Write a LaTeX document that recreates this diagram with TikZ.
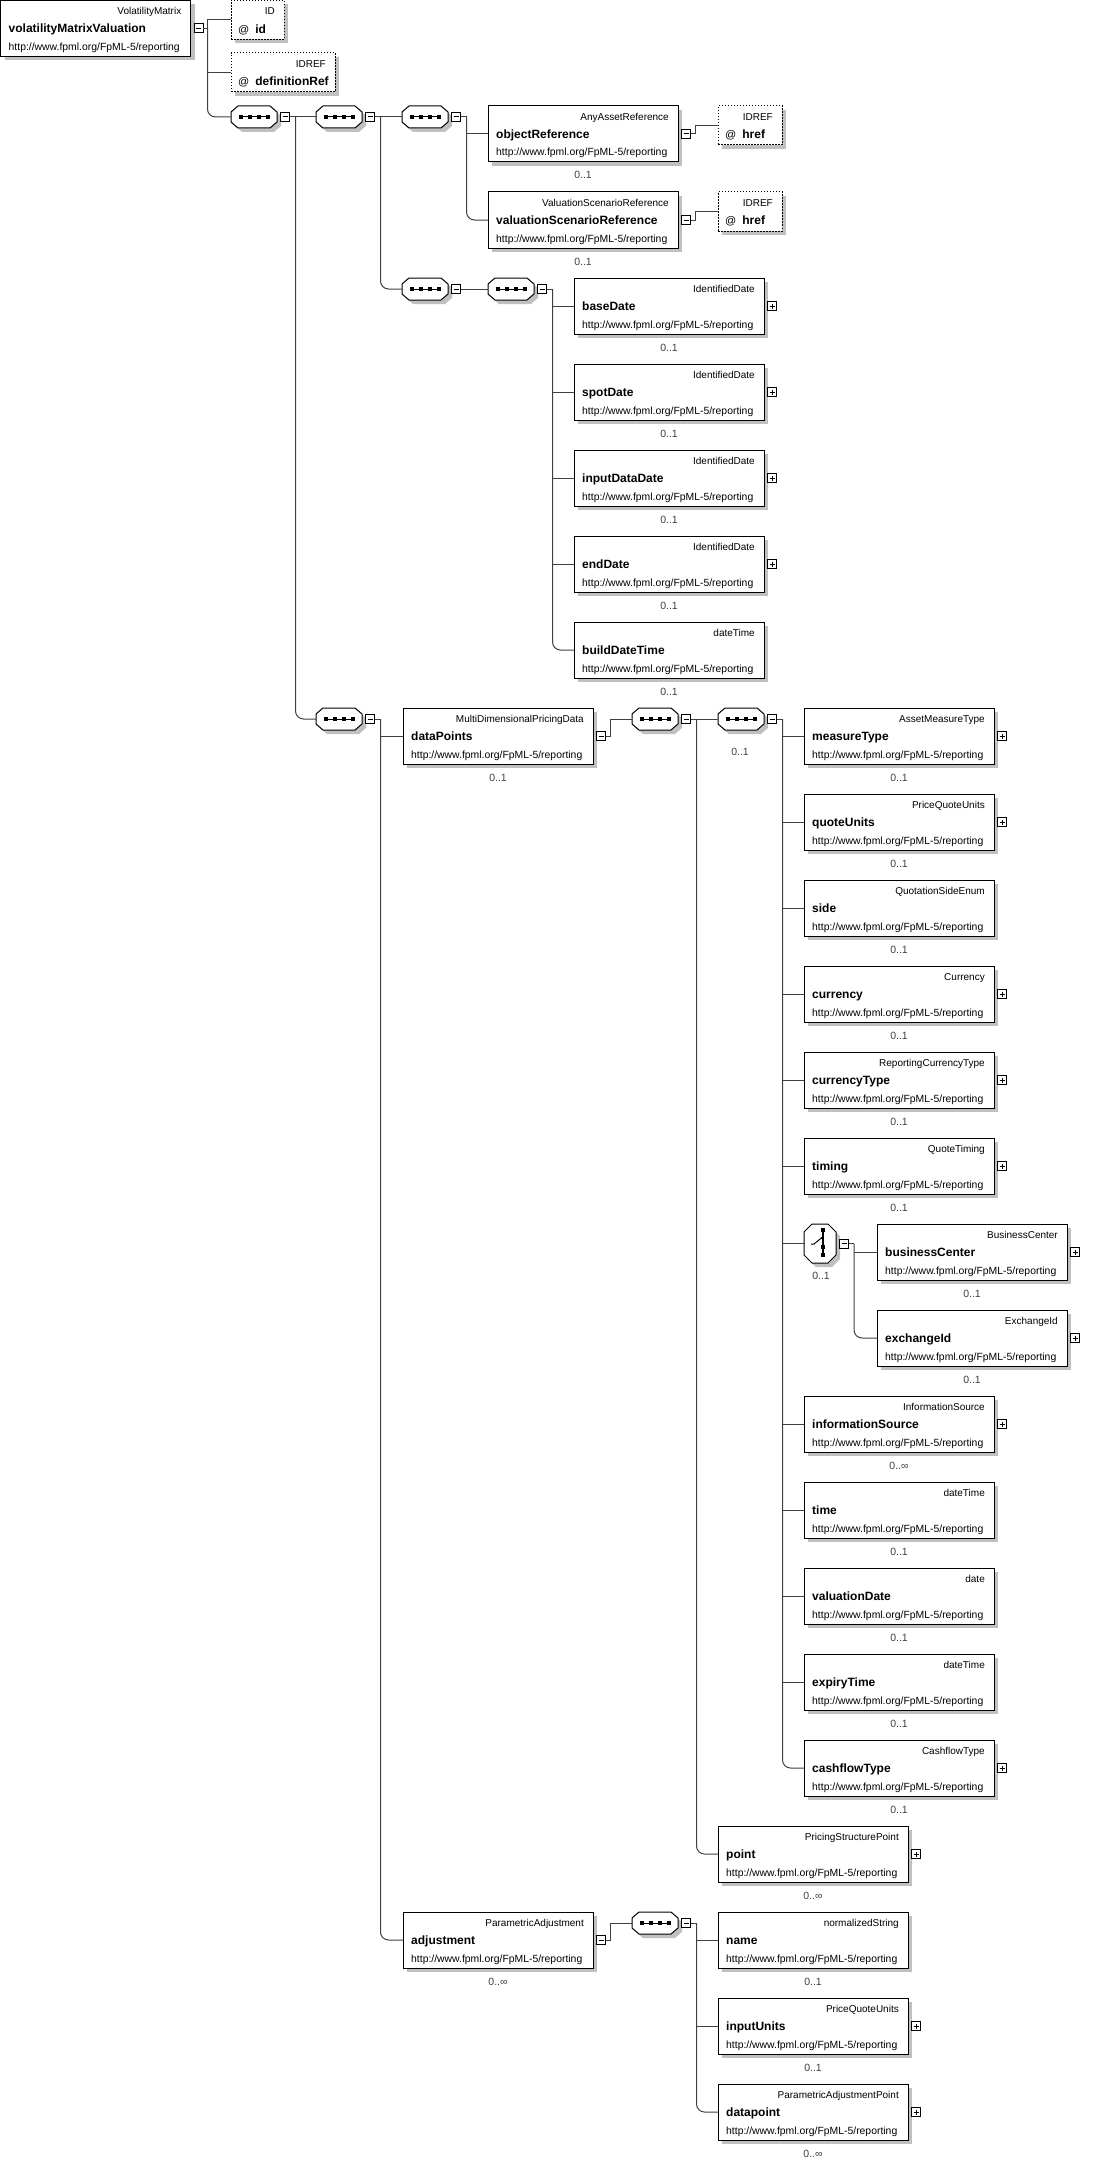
\documentclass[tikz,border=0pt]{standalone}
\usepackage{fontspec}
\setmainfont{Liberation Sans}
\usetikzlibrary{calc}
\definecolor{shadowc}{RGB}{192,192,192}
\definecolor{linec}{RGB}{64,64,64}
\definecolor{occc}{RGB}{64,64,64}
\newcommand\myurl{http://www.fpml.org/FpML-5/reporting}
\tikzset{
 conn/.style={draw=linec, line width=1pt},
 ebox/.style={draw=black, line width=1pt, fill=white, anchor=north west, inner sep=0pt, outer sep=0pt, minimum width=190pt, minimum height=56pt},
 abox/.style={draw=black, line width=1pt, fill=white, dash pattern=on 1.5pt off 1.5pt, anchor=north west, inner sep=0pt, outer sep=0pt, minimum height=39pt},
 typet/.style={font=\fontsize{10}{12}\selectfont, inner sep=0pt, anchor=base east},
 namet/.style={font=\bfseries\fontsize{12}{14}\selectfont, inner sep=0pt, anchor=base west},
 urlt/.style={font=\fontsize{10.4}{12}\selectfont, inner sep=0pt, anchor=base west},
 occt/.style={font=\fontsize{10.5}{12}\selectfont, text=occc, inner sep=0pt, anchor=base},
 pmbox/.style={draw=black, line width=1pt, fill=white, minimum size=9pt, inner sep=0pt, outer sep=0pt},
 hidden/.style={inner sep=0pt, outer sep=0pt, anchor=north west, draw=none}
}
\newcommand\minusbx[2]{%
 \node[pmbox] (#1) at (#2) {};
 \draw[line width=1pt] ($(#1.center)+(-2.5,0)$) -- ($(#1.center)+(2.5,0)$);
}
\newcommand\plusbx[2]{%
 \node[pmbox] (#1) at (#2) {};
 \draw[line width=1pt] ($(#1.center)+(-2.5,0)$) -- ($(#1.center)+(2.5,0)$);
 \draw[line width=1pt] ($(#1.center)+(0,-2.5)$) -- ($(#1.center)+(0,2.5)$);
}
\newcommand\withplus[1]{\plusbx{#1-p}{$(#1.east)+(8,0)$}}
\newcommand\withminus[1]{\minusbx{#1-m}{$(#1.east)+(8,0)$}}
% element box: name, x, y, type, element name, occurrence, extra
\newcommand\elem[7]{%
 \fill[shadowc] (#2+4,#3+4) rectangle (#2+194,#3+60);
 \node[ebox] (#1) at (#2,#3) {};
 \node[typet] (#1-t) at (#2+181,#3+14.5) {#4};
 \node[namet] (#1-n) at (#2+8,#3+32.5) {#5};
 \node[urlt] (#1-u) at (#2+8,#3+50) {\myurl};
 \ifx\relax#6\relax\else\node[occt] (#1-o) at (#2+95,#3+73) {#6};\fi
 #7%
}
% attribute box: name, x, y, width, type, attribute name
\newcommand\attr[6]{%
 \fill[shadowc] (#2+4,#3+4) rectangle (#2+#4+4,#3+43);
 \node[abox, minimum width=#4pt] (#1) at (#2,#3) {};
 \node[typet] (#1-t) at (#2+#4-9,#3+14.5) {#5};
 \node[namet] (#1-n) at (#2+7,#3+33) {{\mdseries\fontsize{11}{13}\selectfont @}\hspace{6pt}#6};
}
% sequence symbol: name, x, y
\newcommand\seqsym[3]{%
 \begin{scope}[shift={(#2+4,#3+4)}]
  \fill[shadowc] (7,0) -- (39,0) -- (46,6) -- (46,16) -- (39,22) -- (7,22) -- (0,16) -- (0,6) -- cycle;
 \end{scope}
 \node[hidden, minimum width=46pt, minimum height=22pt] (#1) at (#2,#3) {};
 \begin{scope}[shift={(#2,#3)}]
  \draw[black, line width=1pt, fill=white] (7,0) -- (39,0) -- (46,6) -- (46,16) -- (39,22) -- (7,22) -- (0,16) -- (0,6) -- cycle;
  \draw[line width=1pt] (8,11) -- (38.5,11);
  \foreach \q in {9.5,18.5,27.5,36.5} \fill (\q-2,9) rectangle (\q+2,13);
 \end{scope}
 \minusbx{#1-m}{$(#1.east)+(8,0)$}
 \coordinate (#1-v) at ($(#1-m.center)+(10.5,0)$);
}
% choice symbol: name, x, y
\newcommand\choicesym[3]{%
 \begin{scope}[shift={(#2+4,#3+4)}]
  \fill[shadowc] (8,0) -- (24,0) -- (32,8) -- (32,31) -- (24,39) -- (8,39) -- (0,31) -- (0,8) -- cycle;
 \end{scope}
 \node[hidden, minimum width=32pt, minimum height=39pt] (#1) at (#2,#3) {};
 \begin{scope}[shift={(#2,#3)}]
  \draw[black, line width=1pt, fill=white] (8,0) -- (24,0) -- (32,8) -- (32,31) -- (24,39) -- (8,39) -- (0,31) -- (0,8) -- cycle;
  \draw[line width=1.2pt] (19,5) -- (19,32);
  \foreach \q in {6,22.5,31} \fill (19-2,\q-2) rectangle (19+2,\q+2);
  \fill (19-2,14-1.3) rectangle (19+0.6,14+1.3);
  \draw[line width=1pt] (7,20) -- (10,20) -- (18,13.5);
 \end{scope}
 \minusbx{#1-m}{$(#1.east)+(8,0)$}
 \coordinate (#1-v) at ($(#1-m.center)+(10,0)$);
}
\begin{document}
\begin{tikzpicture}[x=1pt,y=-1pt]
\fill[white] (0,0) rectangle (1108,2162);
\useasboundingbox (0,0) rectangle (1108,2162);

% root and attributes
\elem{root}{0.5}{0.5}{VolatilityMatrix}{volatilityMatrixValuation}{}{\withminus{root}}
\attr{ID}{231}{0.5}{53}{ID}{id}
\attr{IDREF}{231}{53}{104}{IDREF}{definitionRef}

% sequences
\seqsym{s1}{231}{106}
\seqsym{s2}{316}{106}
\seqsym{s3}{402}{106}
\elem{objRef}{488}{106}{AnyAssetReference}{objectReference}{0..1}{\withminus{objRef}}
\attr{href1}{718}{106}{64}{IDREF}{href}
\elem{valScen}{488}{192}{ValuationScenarioReference}{valuationScenarioReference}{0..1}{\withminus{valScen}}
\attr{href2}{718}{192}{64}{IDREF}{href}

\seqsym{s4}{402}{278}
\seqsym{s5}{488}{278}
\elem{baseDate}{574}{278}{IdentifiedDate}{baseDate}{0..1}{\withplus{baseDate}}
\elem{spotDate}{574}{364}{IdentifiedDate}{spotDate}{0..1}{\withplus{spotDate}}
\elem{inputDataDate}{574}{450}{IdentifiedDate}{inputDataDate}{0..1}{\withplus{inputDataDate}}
\elem{endDate}{574}{536}{IdentifiedDate}{endDate}{0..1}{\withplus{endDate}}
\elem{buildDateTime}{574}{622}{dateTime}{buildDateTime}{0..1}{}

\seqsym{s6}{316}{708}
\elem{dataPoints}{403}{708}{MultiDimensionalPricingData}{dataPoints}{0..1}{\withminus{dataPoints}}
\seqsym{s7}{632}{708}
\seqsym{s8}{718}{708}
\node[occt] (s8-o) at (740,755) {0..1};

\elem{measureType}{804}{708}{AssetMeasureType}{measureType}{0..1}{\withplus{measureType}}
\elem{quoteUnits}{804}{794}{PriceQuoteUnits}{quoteUnits}{0..1}{\withplus{quoteUnits}}
\elem{side}{804}{880}{QuotationSideEnum}{side}{0..1}{}
\elem{currency}{804}{966}{Currency}{currency}{0..1}{\withplus{currency}}
\elem{currencyType}{804}{1052}{ReportingCurrencyType}{currencyType}{0..1}{\withplus{currencyType}}
\elem{timing}{804}{1138}{QuoteTiming}{timing}{0..1}{\withplus{timing}}
\choicesym{ch}{804}{1224}
\node[occt] (ch-o) at (821,1279) {0..1};
\elem{businessCenter}{877}{1224}{BusinessCenter}{businessCenter}{0..1}{\withplus{businessCenter}}
\elem{exchangeId}{877}{1310}{ExchangeId}{exchangeId}{0..1}{\withplus{exchangeId}}
\elem{informationSource}{804}{1396}{InformationSource}{informationSource}{0..∞}{\withplus{informationSource}}
\elem{time}{804}{1482}{dateTime}{time}{0..1}{}
\elem{valuationDate}{804}{1568}{date}{valuationDate}{0..1}{}
\elem{expiryTime}{804}{1654}{dateTime}{expiryTime}{0..1}{}
\elem{cashflowType}{804}{1740}{CashflowType}{cashflowType}{0..1}{\withplus{cashflowType}}
\elem{point}{718}{1826}{PricingStructurePoint}{point}{0..∞}{\withplus{point}}

\elem{adjustment}{403}{1912}{ParametricAdjustment}{adjustment}{0..∞}{\withminus{adjustment}}
\seqsym{s9}{632}{1912}
\elem{name}{718}{1912}{normalizedString}{name}{0..1}{}
\elem{inputUnits}{718}{1998}{PriceQuoteUnits}{inputUnits}{0..1}{\withplus{inputUnits}}
\elem{datapoint}{718}{2084}{ParametricAdjustmentPoint}{datapoint}{0..∞}{\withplus{datapoint}}

% connectors
\coordinate (root-v) at ($(root-m.center)+(9,0)$);
\draw[conn] (root-m.east) -- (root-v);
\draw[conn] (ID.west) -| (root-v);
\draw[conn] (IDREF.west) -- (IDREF.west -| root-v);
\draw[conn, rounded corners=8pt] (root-v) |- (s1.west);

\draw[conn] (s1-m.east) -- (s2.west);
\draw[conn, rounded corners=8pt] (s1-v) |- (s6.west);
\draw[conn] (s2-m.east) -- (s3.west);
\draw[conn, rounded corners=8pt] (s2-v) |- (s4.west);

\draw[conn] (s3-m.east) -- (s3-v);
\draw[conn] (objRef.west) -- (objRef.west -| s3-v);
\draw[conn, rounded corners=8pt] (s3-v) |- (valScen.west);
\draw[conn] (objRef-m.east) -- ++(5,0) |- (href1.west);
\draw[conn] (valScen-m.east) -- ++(5,0) |- (href2.west);

\draw[conn] (s4-m.east) -- (s5.west);
\draw[conn] (s5-m.east) -- (s5-v);
\foreach \c in {baseDate,spotDate,inputDataDate,endDate} \draw[conn] (\c.west) -- (\c.west -| s5-v);
\draw[conn, rounded corners=8pt] (s5-v) |- (buildDateTime.west);

\draw[conn] (s6-m.east) -- (s6-v);
\draw[conn] (dataPoints.west) -- (dataPoints.west -| s6-v);
\draw[conn, rounded corners=8pt] (s6-v) |- (adjustment.west);
\draw[conn] (dataPoints-m.east) -- ++(5,0) |- (s7.west);

\draw[conn] (s7-m.east) -- (s8.west);
\draw[conn, rounded corners=8pt] (s7-v) |- (point.west);

\draw[conn] (s8-m.east) -- (s8-v);
\foreach \c in {measureType,quoteUnits,side,currency,currencyType,timing,ch,informationSource,time,valuationDate,expiryTime} \draw[conn] (\c.west) -- (\c.west -| s8-v);
\draw[conn, rounded corners=8pt] (s8-v) |- (cashflowType.west);

\draw[conn] (ch-m.east) -- (ch-v);
\draw[conn] (businessCenter.west) -- (businessCenter.west -| ch-v);
\draw[conn, rounded corners=8pt] (ch-v) |- (exchangeId.west);

\draw[conn] (adjustment-m.east) -- ++(5,0) |- (s9.west);
\draw[conn] (s9-m.east) -- (s9-v);
\draw[conn] (name.west) -- (name.west -| s9-v);
\draw[conn] (inputUnits.west) -- (inputUnits.west -| s9-v);
\draw[conn, rounded corners=8pt] (s9-v) |- (datapoint.west);
\end{tikzpicture}
\end{document}
